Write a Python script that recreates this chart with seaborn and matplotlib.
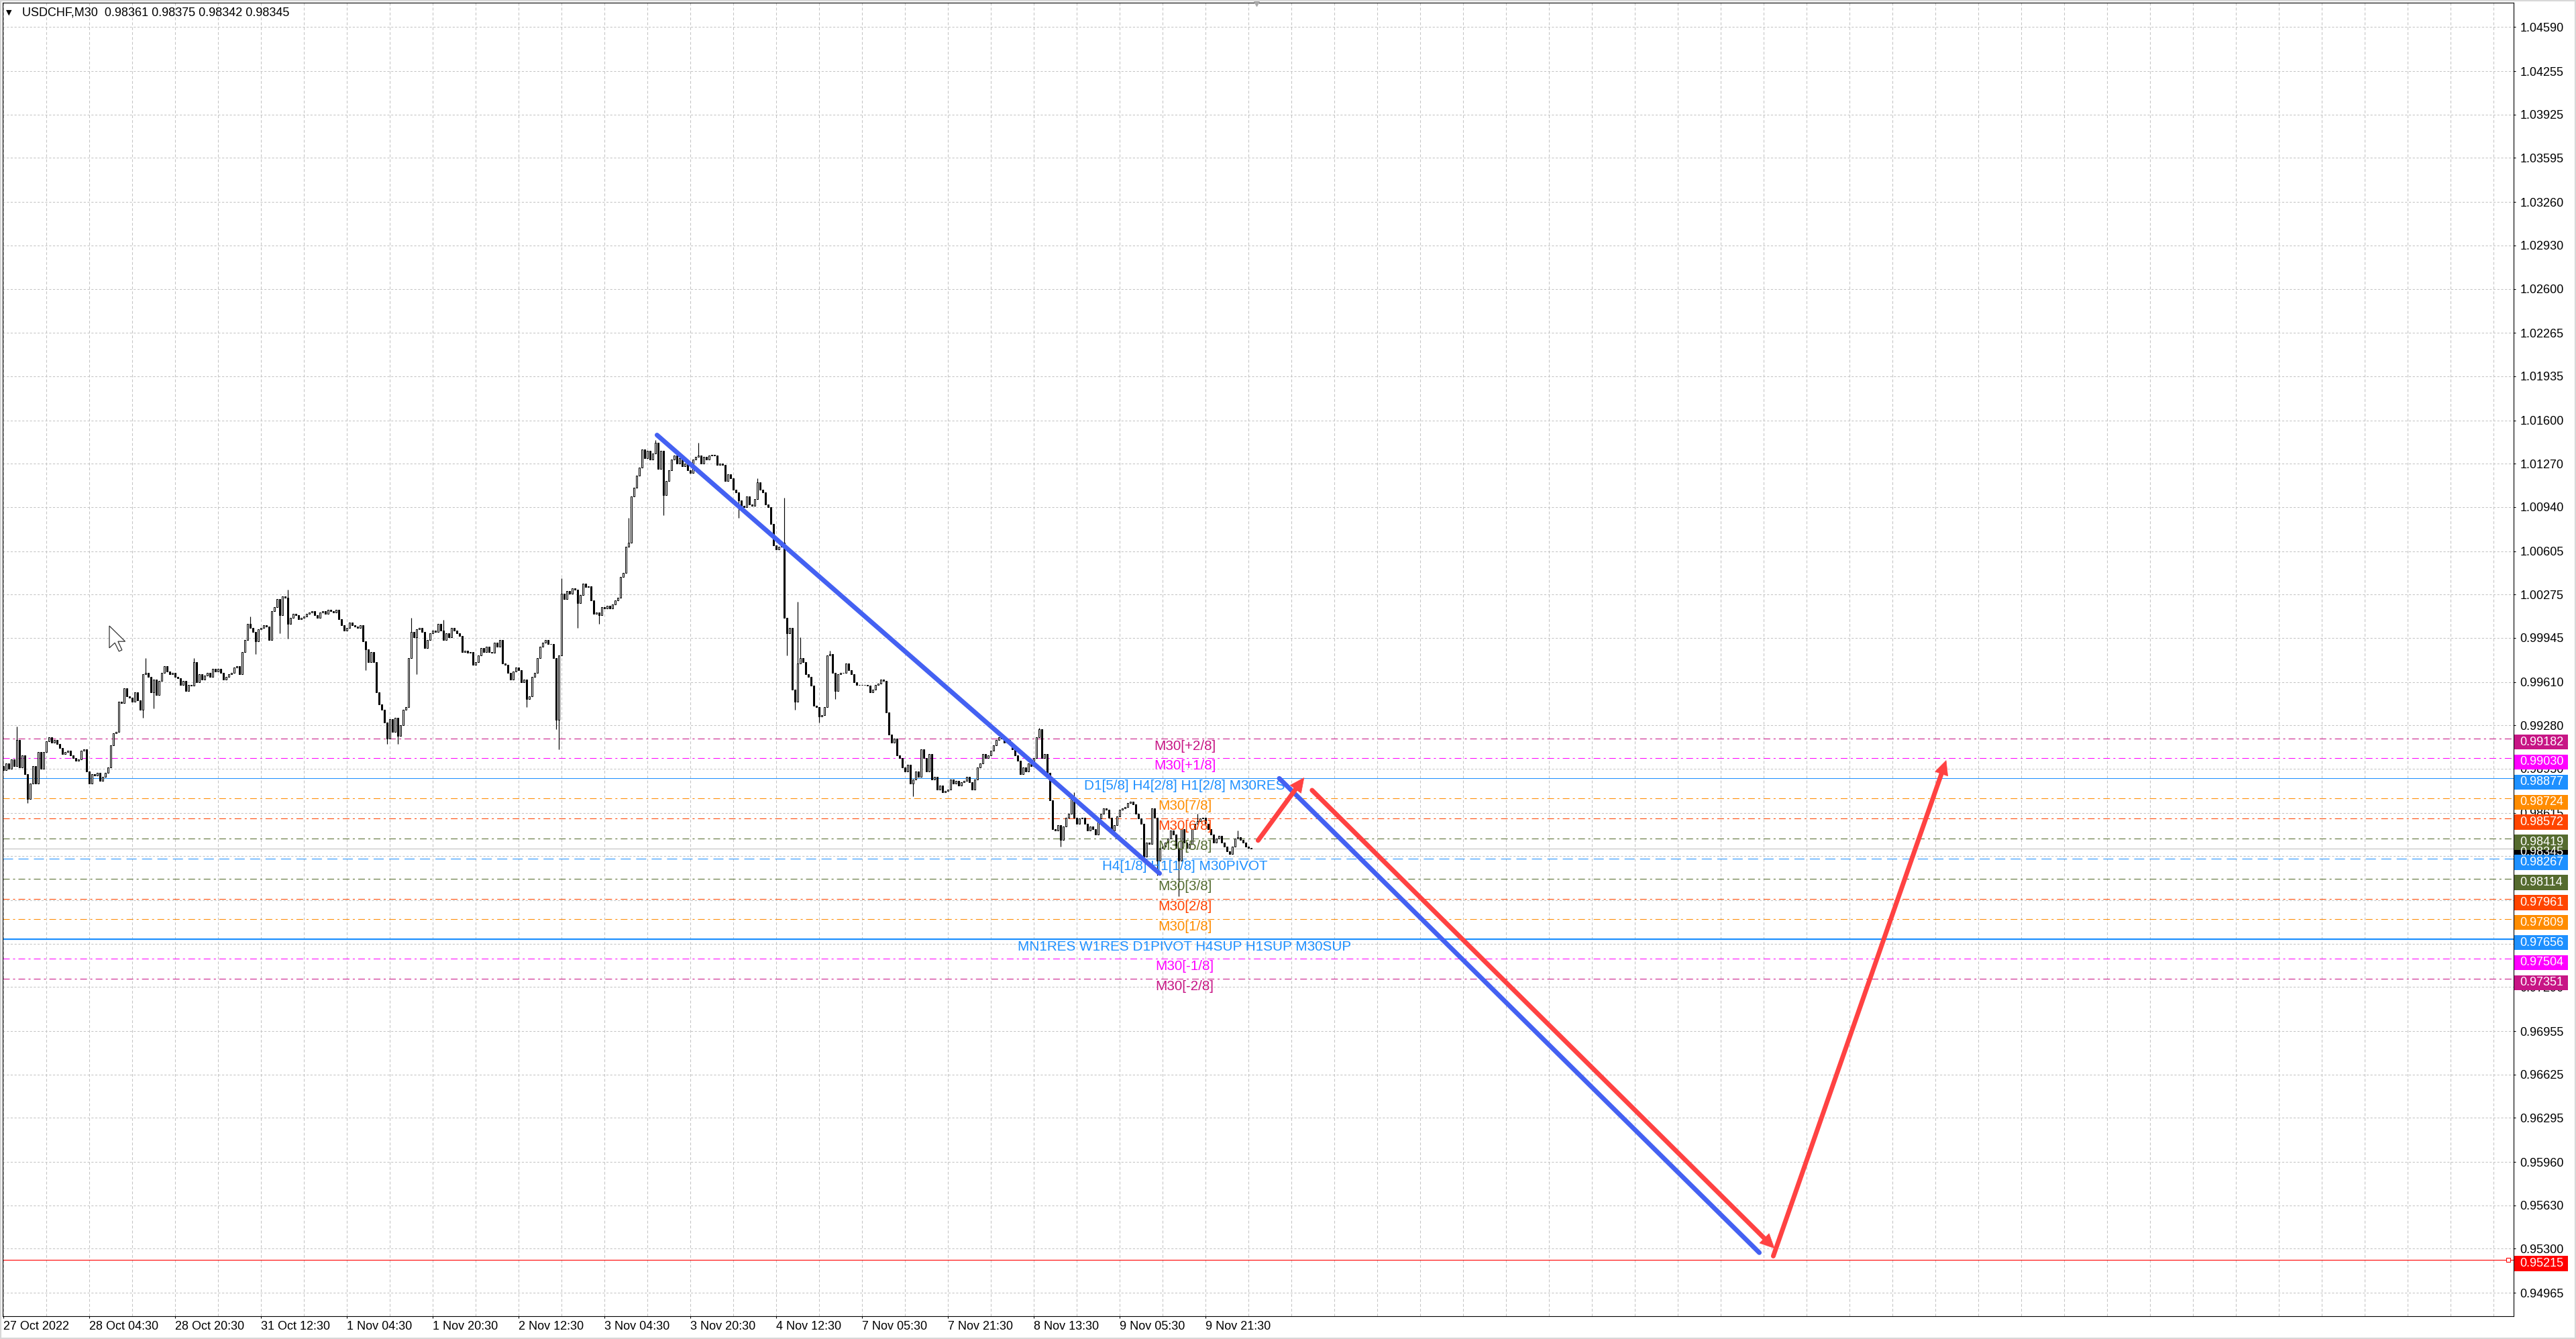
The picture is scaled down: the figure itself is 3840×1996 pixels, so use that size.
import numpy as np
import pandas as pd
import seaborn as sns
import matplotlib
matplotlib.use("Agg")
import matplotlib.pyplot as plt
import matplotlib.transforms as mtransforms
from matplotlib.patches import Rectangle, Polygon

# ---------------- data (prices in pips, 1 pip = 0.0001) ----------------
first_open = 9897
closes_pips = [
    9894, 9899, 9895, 9902, 9897, 9917, 9896, 9905, 9891, 9872,
    9884, 9897, 9884, 9908, 9895, 9908, 9916, 9919, 9915, 9917,
    9914, 9911, 9906, 9908, 9909, 9905, 9903, 9901, 9902, 9909,
    9910, 9893, 9884, 9891, 9890, 9892, 9886, 9889, 9892, 9896,
    9913, 9922, 9923, 9946, 9945, 9956, 9950, 9949, 9946, 9953,
    9947, 9940, 9967, 9968, 9965, 9953, 9963, 9951, 9962, 9968,
    9973, 9969, 9967, 9968, 9965, 9964, 9959, 9962, 9954, 9959,
    9958, 9976, 9961, 9967, 9963, 9966, 9968, 9965, 9971, 9969,
    9971, 9968, 9963, 9965, 9967, 9968, 9972, 9973, 9967, 9984,
    9993, 10005, 10002, 9999, 9992, 10001, 10002, 10004, 10003, 9993,
    10015, 10018, 10024, 10012, 10026, 10025, 10005, 10010, 10013, 10012,
    10009, 10010, 10011, 10013, 10014, 10015, 10012, 10010, 10014, 10015,
    10013, 10016, 10015, 10014, 10016, 10009, 10004, 10000, 10002, 10006,
    10004, 10003, 10002, 10004, 9992, 9986, 9976, 9984, 9976, 9953,
    9944, 9940, 9930, 9918, 9933, 9923, 9934, 9920, 9928, 9940,
    9942, 9979, 9999, 9995, 10001, 10002,
    9999, 9987, 9993, 9998, 10000, 9999, 10005, 10000, 9993, 9998,
    9995, 10002, 10000, 9998, 9996, 9984, 9985, 9983, 9984, 9974,
    9976, 9981, 9987, 9984, 9988, 9984, 9983, 9991, 9988, 9993,
    9975, 9974, 9968, 9963, 9969, 9972, 9970, 9961, 9963, 9948,
    9950, 9965, 9968, 9979, 9988, 9991, 9993, 9990, 9990, 9979,
    9932, 9981, 10028, 10024, 10030, 10028, 10032, 10031, 10021, 10027,
    10036, 10033, 10034, 10023, 10013, 10014, 10012, 10018, 10017, 10019,
    10017, 10020, 10023, 10025, 10041, 10044, 10064, 10067, 10102, 10109,
    10118, 10124, 10138, 10131, 10137, 10130, 10135, 10143, 10123, 10137,
    10103, 10114, 10122, 10130, 10133, 10127, 10131, 10125, 10127, 10122,
    10120, 10130, 10132, 10133, 10127, 10132, 10130, 10133, 10134, 10133,
    10126, 10127, 10126, 10114, 10119, 10116, 10107, 10105, 10099, 10095,
    10094, 10102, 10096, 10095, 10100, 10113, 10107, 10105, 10096, 10094,
    10081, 10065, 10062, 10064, 10067, 10010, 9998, 10002, 9955, 9946,
    9975, 9979, 9976, 9967, 9965, 9958, 9943, 9942, 9935, 9936,
    9942, 9981,
    9982, 9968, 9954, 9967, 9968, 9968, 9975, 9970, 9967, 9961,
    9959, 9959, 9959, 9959, 9958, 9953, 9955, 9959, 9960, 9963,
    9962, 9938, 9921, 9915, 9918, 9905, 9903, 9896, 9893, 9898,
    9884, 9887, 9893, 9889, 9910, 9903, 9893, 9906, 9887, 9889,
    9879, 9882, 9877, 9878, 9879, 9887, 9884, 9886, 9882, 9885,
    9886, 9889, 9885, 9879, 9887, 9896, 9899, 9906, 9903, 9905,
    9909, 9913, 9917, 9919, 9918, 9915, 9917, 9914, 9910, 9905,
    9901, 9891, 9896, 9893, 9899, 9897, 9903, 9919, 9925, 9903,
    9906, 9892, 9871, 9849, 9848, 9852, 9841, 9851, 9858, 9861,
    9872, 9858, 9853, 9857, 9858, 9853, 9848, 9851, 9849, 9845,
    9857, 9861, 9865, 9864, 9858, 9848, 9852, 9859, 9864, 9865,
    9866, 9869, 9870, 9868, 9861, 9857, 9853, 9828, 9839, 9838,
    9865, 9858, 9825, 9835, 9836, 9839, 9842, 9848, 9845, 9835,
    9825, 9849, 9839, 9835, 9838, 9849, 9853, 9855, 9857, 9858,
    9853, 9849, 9845, 9839, 9842, 9844, 9839, 9836, 9832, 9830,
    9836, 9842, 9843, 9841, 9839, 9836, 9835, 9834.5,
]
high_wicks = {5: 9927, 53: 9979, 71: 9979, 92: 10011, 106: 10031, 152: 10010,
              164: 10008, 208: 10040, 233: 10086, 243: 10145, 259: 10143,
              281: 10116, 291: 10101, 296: 10022, 297: 9995, 308: 9985,
              386: 9926, 399: 9877, 445: 9861, 460: 9848}
low_wicks = {9: 9869, 52: 9934, 56: 9941, 94: 9982, 103: 9998, 106: 9994,
             135: 9970, 143: 9914, 147: 9914, 154: 9967, 195: 9942, 206: 9925,
             207: 9910, 214: 10002, 222: 10005, 246: 10088, 274: 10086,
             292: 9981, 295: 9940, 304: 9930, 310: 9948, 339: 9874, 394: 9836,
             425: 9824, 430: 9814, 438: 9798}

time_label_bars = [0, 32, 64, 96, 128, 160, 192, 224, 256, 288, 320, 352, 384, 416, 448]
time_labels = ["27 Oct 2022", "28 Oct 04:30", "28 Oct 20:30", "31 Oct 12:30",
               "1 Nov 04:30", "1 Nov 20:30", "2 Nov 12:30", "3 Nov 04:30",
               "3 Nov 20:30", "4 Nov 12:30", "7 Nov 05:30", "7 Nov 21:30",
               "8 Nov 13:30", "9 Nov 05:30", "9 Nov 21:30"]

tick_prices = [1.04590, 1.04255, 1.03925, 1.03595, 1.03260, 1.02930, 1.02600,
               1.02265, 1.01935, 1.01600, 1.01270, 1.00940, 1.00605, 1.00275,
               0.99945, 0.99610, 0.99280, 0.98950, 0.98615, 0.98285, 0.97950,
               0.97620, 0.97290, 0.96955, 0.96625, 0.96295, 0.95960, 0.95630,
               0.95300, 0.94965]
# tick labels that sit entirely under a price box in the terminal
covered_ticks = [0.98285, 0.97950, 0.97620]

level_prices = [0.99182, 0.99030, 0.98877, 0.98724, 0.98572, 0.98419, 0.98267,
                0.98114, 0.97961, 0.97809, 0.97656, 0.97504, 0.97351]
level_names = ["M30[+2/8]", "M30[+1/8]", "D1[5/8] H4[2/8] H1[2/8] M30RES",
               "M30[7/8]", "M30[6/8]", "M30[5/8]", "H4[1/8] H1[1/8] M30PIVOT",
               "M30[3/8]", "M30[2/8]", "M30[1/8]",
               "MN1RES W1RES D1PIVOT H4SUP H1SUP M30SUP", "M30[-1/8]", "M30[-2/8]"]
level_colors = ["#C71585", "#FF00FF", "#1E90FF", "#FF8C00", "#FF4500", "#556B2F",
                "#1E90FF", "#556B2F", "#FF4500", "#FF8C00", "#1E90FF", "#FF00FF",
                "#C71585"]
level_kinds = ["dashdot", "dashdot", "solid", "dashdot", "dashdot", "dashdot",
               "dashed", "dashdot", "dashdot", "dashdot", "thick", "dashdot",
               "dashdot"]
label_bar = 440.25

current_price = 0.98345
target_price = 0.95215
header_text = "USDCHF,M30  0.98361 0.98375 0.98342 0.98345"

blue_lines_x = [[243.6, 430.9], [475.5, 654.4]]
blue_lines_y = [[1.01488, 0.98154], [0.98877, 0.95270]]
red_arrows_x = [[467.6, 484.7], [487.7, 660.0], [659.6, 724.0]]
red_arrows_y = [[0.98405, 0.98881], [0.98787, 0.95304], [0.95244, 0.99013]]

# ---------------- build candles ----------------
closes = np.array(closes_pips, dtype=float) / 10000.0
opens = np.concatenate([[first_open / 10000.0], closes[:-1]])
highs = np.maximum(opens, closes)
lows = np.minimum(opens, closes)
for k, v in high_wicks.items():
    highs[k] = max(highs[k], v / 10000.0)
for k, v in low_wicks.items():
    lows[k] = min(lows[k], v / 10000.0)
bars = np.arange(len(closes))
df = pd.DataFrame({"bar": bars, "open": opens, "high": highs, "low": lows, "close": closes})

# ---------------- figure ----------------
sns.set_style("white")
plt.rcParams["font.family"] = ["Liberation Sans", "DejaVu Sans"]
W, H = 3840, 1996
fig = plt.figure(figsize=(W / 100, H / 100), dpi=100)
ax_l, ax_r, ax_t, ax_b = 4, 3747, 4, 1962
ax = fig.add_axes([ax_l / W, (H - ax_b) / H, (ax_r - ax_l) / W, (ax_b - ax_t) / H])
ax.set_facecolor("white")
XL = (-0.25, 935.5)
YL = (0.94787, 1.04776)
ax.set_xlim(*XL)
ax.set_ylim(*YL)
px_per_bar = (ax_r - ax_l) / (XL[1] - XL[0])
px_per_unit = (ax_b - ax_t) / (YL[1] - YL[0])

# grid
for k in range(0, 59):
    ax.axvline(k * 16, color="#C4C4C4", lw=0.75, ls=(0, (4, 3)), zorder=0.6)
for t in tick_prices:
    ax.axhline(t, color="#C4C4C4", lw=0.75, ls=(0, (3, 2.5)), zorder=0.6)

# level lines
for p, c, kind in zip(level_prices, level_colors, level_kinds):
    if kind == "dashdot":
        ax.axhline(p, color=c, lw=0.75, ls=(0, (9.6, 4.8, 2.9, 4.8)), zorder=1)
    elif kind == "dashed":
        ax.axhline(p, color=c, lw=0.75, ls=(0, (14.4, 7.7)), zorder=1)
    elif kind == "thick":
        ax.axhline(p, color=c, lw=1.6, ls="-", zorder=1)
    else:
        ax.axhline(p, color=c, lw=0.75, ls="-", zorder=1)
ax.axhline(current_price, color="#C0C0C0", lw=0.8, zorder=1)
ax.axhline(target_price, color="#FF0000", lw=0.8, zorder=1)
ax.plot([933.6], [target_price], marker="s", ms=4, mfc="white", mec="#FF0000",
        mew=0.8, zorder=2, clip_on=False)

# candles
bull = df["close"] >= df["open"]
ax.vlines(df["bar"], df["low"], df["high"], color="black", lw=0.85, zorder=2.4)
ax.bar(df["bar"][bull], (df["close"] - df["open"])[bull], bottom=df["open"][bull],
       width=0.68, color="white", edgecolor="black", linewidth=0.75, zorder=2.5)
ax.bar(df["bar"][~bull], (df["close"] - df["open"])[~bull], bottom=df["open"][~bull],
       width=0.68, color="black", edgecolor="black", linewidth=0.75, zorder=2.5)

# level labels
for p, name, c in zip(level_prices, level_names, level_colors):
    ax.annotate(name, xy=(label_bar, p), xytext=(0, -8.3), textcoords="offset points",
                ha="center", va="center", fontsize=14.9, color=c, zorder=3)

# trend lines & arrows
blue = "#4461F2"
red = "#FF4242"
for xs, ys in zip(blue_lines_x, blue_lines_y):
    sns.lineplot(x=xs, y=ys, ax=ax, color=blue, linewidth=5, solid_capstyle="round",
                 sort=False, legend=False, zorder=4)


def head_pts(x0, y0, x1, y1, L=21, Wd=10):
    dx = (x1 - x0) * px_per_bar
    dy = (y1 - y0) * px_per_unit
    n = np.hypot(dx, dy)
    ux, uy = dx / n, dy / n
    bx, by = -ux * L, -uy * L
    pts = [(0, 0), (bx - uy * Wd, by + ux * Wd), (bx + uy * Wd, by - ux * Wd)]
    base = (x1 + bx / px_per_bar, y1 + by / px_per_unit)
    return [(x1 + a / px_per_bar, y1 + b / px_per_unit) for a, b in pts], base


for xs, ys in zip(red_arrows_x, red_arrows_y):
    pts, base = head_pts(xs[0], ys[0], xs[1], ys[1])
    sns.lineplot(x=[xs[0], base[0]], y=[ys[0], base[1]], ax=ax, color=red, linewidth=5,
                 solid_capstyle="round", sort=False, legend=False, zorder=4)
    ax.add_patch(Polygon(pts, closed=True, facecolor=red, edgecolor=red, lw=0.5, zorder=4.1))

ax.set_xlabel("")
ax.set_ylabel("")

# axes, ticks
for sp in ax.spines.values():
    sp.set_color("black")
    sp.set_linewidth(0.8)
ax.yaxis.tick_right()
ax.set_yticks(tick_prices)
ax.set_yticklabels(["" if t in covered_ticks else f"{t:.5f}" for t in tick_prices])
ax.tick_params(axis="y", which="both", left=False, right=True, labelleft=False,
               labelright=True, length=2.5, width=0.8, pad=4.5, labelsize=13,
               colors="black")
ax.set_xticks(time_label_bars)
ax.set_xticklabels(time_labels, ha="left")
ax.tick_params(axis="x", which="both", bottom=True, length=2.5, width=0.8, pad=2.5,
               labelsize=13, colors="black")

# right-side price boxes (drawn slightly below their line, as in the terminal)
tr = mtransforms.blended_transform_factory(ax.transAxes, ax.transData)
bx0 = (3748 - ax_l) / (ax_r - ax_l)
bw = 80 / (ax_r - ax_l)
bh = 22.5 / px_per_unit
box_shift = 5.5 / px_per_unit
tx = (3756 - ax_l) / (ax_r - ax_l)
box_prices = [current_price] + level_prices + [target_price]
box_colors = ["#000000"] + level_colors + ["#FF0000"]
for p, c in zip(box_prices, box_colors):
    yc = p - box_shift
    ax.add_patch(Rectangle((bx0, yc - bh / 2), bw, bh, transform=tr, facecolor=c,
                           edgecolor="none", clip_on=False, zorder=6))
    ax.text(tx, yc, f"{p:.5f}", transform=tr, ha="left", va="center", fontsize=13,
            color="white", clip_on=False, zorder=6.1)

# shift marker at top
ax.plot([467], [YL[1]], marker="v", ms=7, color="#A8A8A8", clip_on=False, zorder=7)

# mouse pointer seen in the screenshot (figure pixel coords)
cur_tip = (163, 933)
cur_shape = [(0, 0), (0, 16), (4, 12.3), (7, 18.5), (9.2, 17.5), (6.3, 11.3), (11.5, 11.3)]
sc = 2.05
cur_pts = [((cur_tip[0] + a * sc) / W, 1 - (cur_tip[1] + b * sc) / H) for a, b in cur_shape]
fig.patches.append(Polygon(cur_pts, closed=True, transform=fig.transFigure,
                           facecolor="white", edgecolor="#333333", lw=0.9, zorder=8))

# header
fig.text(9 / W, 1 - 18.5 / H, "\u25BC", family="DejaVu Sans", fontsize=8,
         ha="left", va="center", color="black")
fig.text(33 / W, 1 - 19.5 / H, header_text, fontsize=13, ha="left", va="center",
         color="black")

# outer light border
fig.patches.append(Rectangle((0, 0), 1, 1, transform=fig.transFigure, fill=False,
                             edgecolor="#D8D8D8", lw=3, zorder=10))

fig.savefig("out.png", dpi=100, facecolor="white")
